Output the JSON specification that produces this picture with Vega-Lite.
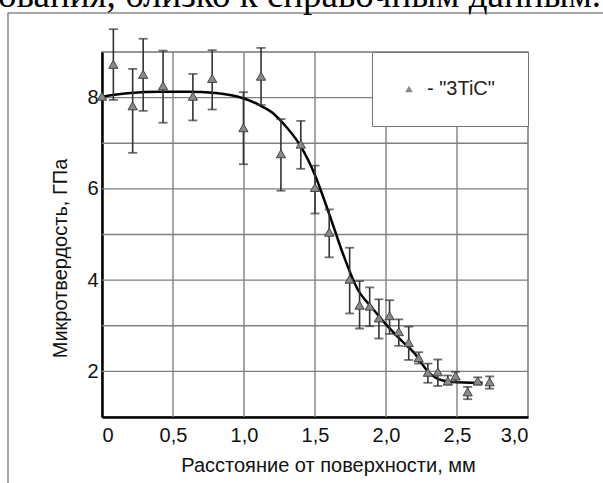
{
  "$schema": "https://vega.github.io/schema/vega-lite/v6.json",
  "width": 426,
  "height": 365,
  "autosize": "none",
  "padding": {"left": 102, "top": 52, "right": 75, "bottom": 66},
  "background": "white",
  "title": {
    "text": "ования, близко к справочным данным.",
    "font": "Liberation Serif",
    "fontSize": 37,
    "fontWeight": "normal",
    "color": "black",
    "anchor": "start",
    "frame": "group",
    "orient": "top",
    "baseline": "alphabetic",
    "offset": 0,
    "dx": -104,
    "dy": 32
  },
  "config": {
    "view": {"stroke": "#777", "strokeWidth": 1.5},
    "font": "Liberation Sans",
    "axis": {
      "labelFont": "Liberation Sans",
      "titleFont": "Liberation Sans",
      "labelFontSize": 20,
      "titleFontSize": 20,
      "titleFontWeight": "normal",
      "labelColor": "#111",
      "titleColor": "#111",
      "domainColor": "black",
      "domainWidth": 2.5,
      "grid": false,
      "ticks": false
    }
  },
  "datasets": {
    "gridx": [{"v": 0.5}, {"v": 1.0}, {"v": 1.5}, {"v": 2.0}, {"v": 2.5}],
    "gridy": [{"v": 2}, {"v": 3}, {"v": 4}, {"v": 5}, {"v": 6}, {"v": 7}, {"v": 8}],
    "pts": [
      {"x": 0, "y": 8.03, "lo": null, "hi": null, "series": "3TiC"},
      {"x": 0.08, "y": 8.73, "lo": 7.95, "hi": 9.5, "series": "3TiC"},
      {"x": 0.216, "y": 7.82, "lo": 6.79, "hi": 8.63, "series": "3TiC"},
      {"x": 0.29, "y": 8.51, "lo": 7.71, "hi": 9.29, "series": "3TiC"},
      {"x": 0.43, "y": 8.26, "lo": 7.45, "hi": 9.03, "series": "3TiC"},
      {"x": 0.64, "y": 8.03, "lo": 7.5, "hi": 8.52, "series": "3TiC"},
      {"x": 0.776, "y": 8.42, "lo": 7.74, "hi": 9.04, "series": "3TiC"},
      {"x": 0.996, "y": 7.34, "lo": 6.54, "hi": 8.12, "series": "3TiC"},
      {"x": 1.12, "y": 8.47, "lo": 7.84, "hi": 9.09, "series": "3TiC"},
      {"x": 1.26, "y": 6.77, "lo": 5.96, "hi": 7.53, "series": "3TiC"},
      {"x": 1.4, "y": 6.98, "lo": 6.44, "hi": 7.49, "series": "3TiC"},
      {"x": 1.5, "y": 6.03, "lo": 5.46, "hi": 6.51, "series": "3TiC"},
      {"x": 1.6, "y": 5.05, "lo": 4.5, "hi": 5.55, "series": "3TiC"},
      {"x": 1.744, "y": 4.02, "lo": 3.27, "hi": 4.71, "series": "3TiC"},
      {"x": 1.814, "y": 3.45, "lo": 2.94, "hi": 3.98, "series": "3TiC"},
      {"x": 1.885, "y": 3.43, "lo": 2.99, "hi": 3.84, "series": "3TiC"},
      {"x": 1.95, "y": 3.17, "lo": 2.72, "hi": 3.58, "series": "3TiC"},
      {"x": 2.025, "y": 3.22, "lo": 2.82, "hi": 3.56, "series": "3TiC"},
      {"x": 2.09, "y": 2.87, "lo": 2.56, "hi": 3.14, "series": "3TiC"},
      {"x": 2.16, "y": 2.63, "lo": 2.25, "hi": 2.98, "series": "3TiC"},
      {"x": 2.23, "y": 2.3, "lo": 2.17, "hi": 2.42, "series": "3TiC"},
      {"x": 2.295, "y": 1.98, "lo": 1.75, "hi": 2.17, "series": "3TiC"},
      {"x": 2.365, "y": 1.99, "lo": 1.68, "hi": 2.26, "series": "3TiC"},
      {"x": 2.435, "y": 1.79, "lo": 1.71, "hi": 1.91, "series": "3TiC"},
      {"x": 2.49, "y": 1.9, "lo": 1.77, "hi": 1.99, "series": "3TiC"},
      {"x": 2.575, "y": 1.55, "lo": 1.39, "hi": 1.66, "series": "3TiC"},
      {"x": 2.646, "y": 1.79, "lo": 1.71, "hi": 1.87, "series": "3TiC"},
      {"x": 2.73, "y": 1.77, "lo": 1.62, "hi": 1.89, "series": "3TiC"}
    ],
    "curve": [
      {"x": 0, "y": 8.02},
      {"x": 0.2, "y": 8.1},
      {"x": 0.4, "y": 8.13},
      {"x": 0.6, "y": 8.13},
      {"x": 0.8, "y": 8.1},
      {"x": 1.0, "y": 7.98},
      {"x": 1.1, "y": 7.85},
      {"x": 1.2, "y": 7.67},
      {"x": 1.3, "y": 7.35},
      {"x": 1.4, "y": 6.93},
      {"x": 1.5, "y": 6.3},
      {"x": 1.6, "y": 5.45},
      {"x": 1.7, "y": 4.55},
      {"x": 1.8, "y": 3.8},
      {"x": 1.9, "y": 3.4},
      {"x": 2.0, "y": 3.03},
      {"x": 2.1, "y": 2.7},
      {"x": 2.2, "y": 2.4},
      {"x": 2.3, "y": 1.98},
      {"x": 2.4, "y": 1.8},
      {"x": 2.5, "y": 1.76},
      {"x": 2.6, "y": 1.75},
      {"x": 2.68, "y": 1.75}
    ]
  },
  "layer": [
    {
      "data": {"name": "gridx"},
      "mark": {"type": "rule", "color": "#808080", "strokeWidth": 1.4},
      "encoding": {
        "x": {
          "field": "v",
          "type": "quantitative",
          "scale": {"domain": [0, 3], "nice": false, "zero": false},
          "axis": {
            "title": "Расстояние от поверхности, мм",
            "values": [0, 0.5, 1, 1.5, 2, 2.5, 3],
            "labelExpr": "datum.value == 0 ? '0' : replace(format(datum.value, '.1f'), '.', ',')",
            "labelPadding": 8,
            "titleX": 226,
            "titleY": 54,
            "titleBaseline": "alphabetic",
            "titleAnchor": "middle"
          }
        }
      }
    },
    {
      "data": {"name": "gridy"},
      "mark": {"type": "rule", "color": "#808080", "strokeWidth": 1.4},
      "encoding": {
        "y": {
          "field": "v",
          "type": "quantitative",
          "scale": {"domain": [1, 9], "nice": false, "zero": false},
          "axis": {
            "title": "Микротвердость, ГПа",
            "values": [2, 4, 6, 8],
            "labelPadding": 4,
            "titleX": -42,
            "titleY": 206,
            "titleBaseline": "middle",
            "titleAnchor": "middle"
          }
        }
      }
    },
    {
      "data": {"name": "curve"},
      "mark": {"type": "line", "color": "black", "strokeWidth": 2.5, "interpolate": "monotone"},
      "encoding": {
        "x": {"field": "x", "type": "quantitative"},
        "y": {"field": "y", "type": "quantitative"}
      }
    },
    {
      "data": {"name": "pts"},
      "mark": {"type": "rule", "color": "#333", "strokeWidth": 1.6},
      "encoding": {
        "x": {"field": "x", "type": "quantitative"},
        "y": {"field": "lo", "type": "quantitative"},
        "y2": {"field": "hi"}
      }
    },
    {
      "data": {"name": "pts"},
      "mark": {"type": "tick", "color": "#333", "orient": "horizontal", "size": 9, "thickness": 1.8},
      "encoding": {
        "x": {"field": "x", "type": "quantitative"},
        "y": {"field": "lo", "type": "quantitative"}
      }
    },
    {
      "data": {"name": "pts"},
      "mark": {"type": "tick", "color": "#333", "orient": "horizontal", "size": 9, "thickness": 1.8},
      "encoding": {
        "x": {"field": "x", "type": "quantitative"},
        "y": {"field": "hi", "type": "quantitative"}
      }
    },
    {
      "data": {"name": "pts"},
      "mark": {"type": "point", "filled": true, "fill": "#8a8a8a", "stroke": "#444", "strokeWidth": 1, "size": 85, "opacity": 1},
      "encoding": {
        "x": {"field": "x", "type": "quantitative"},
        "y": {"field": "y", "type": "quantitative"},
        "shape": {
          "field": "series",
          "type": "nominal",
          "scale": {"domain": ["3TiC"], "range": ["triangle-up"]},
          "legend": {
            "title": null,
            "orient": "top-right",
            "offset": 0,
            "padding": 27,
            "strokeColor": "#777",
            "fillColor": "white",
            "symbolSize": 60,
            "symbolFillColor": "#8a8a8a",
            "symbolStrokeColor": "#555",
            "symbolStrokeWidth": 1,
            "labelFont": "Liberation Sans",
            "labelFontSize": 20,
            "labelColor": "#222",
            "labelOffset": 8,
            "labelExpr": "'-  \"' + datum.label + '\"\u00a0\u00a0\u00a0\u00a0\u00a0'"
          }
        }
      }
    },
    {
      "data": {"values": [{}]},
      "mark": {"type": "rule", "color": "#888", "strokeWidth": 1.5, "clip": false},
      "encoding": {
        "x": {"datum": -0.662, "type": "quantitative"},
        "y": {"datum": 9.86, "type": "quantitative"},
        "y2": {"datum": -0.5}
      }
    },
    {
      "data": {"values": [{}]},
      "mark": {"type": "rule", "color": "#888", "strokeWidth": 1.5, "clip": false},
      "encoding": {
        "y": {"datum": 9.855, "type": "quantitative"},
        "x": {"datum": -0.662, "type": "quantitative"},
        "x2": {"datum": 3.53}
      }
    }
  ]
}
